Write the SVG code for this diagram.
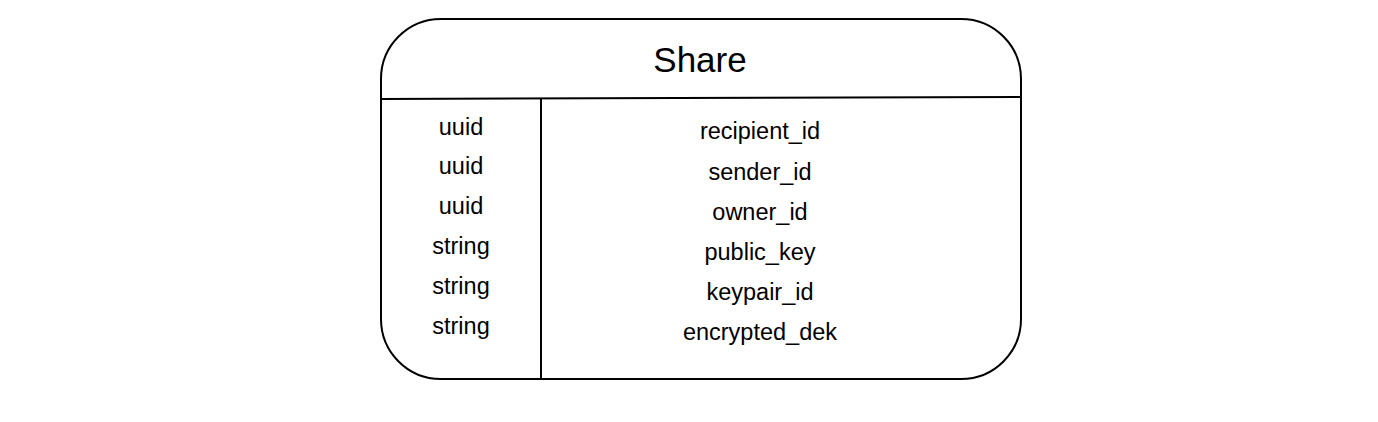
<svg xmlns="http://www.w3.org/2000/svg" width="1378" height="422" viewBox="0 0 1378 422">
<style>
.t{font-family:"Liberation Sans",Arial,sans-serif;fill:#000;text-anchor:middle}
.f{font-size:23.5px}
.ln{stroke:#000;stroke-width:2;fill:none}
</style>
<rect width="1378" height="422" fill="#fff"/>
<g id="share">
<rect x="381" y="19" width="640" height="360" rx="60" ry="60" class="ln" fill="#fff"/>
<text class="t" x="700" y="72" font-size="35">Share</text>
</g>
<g id="connectors">
<path class="ln" d="M381 99 L1022 97"/>
<path class="ln" d="M541 99 L541 379"/>
</g>
<g id="types">
<text class="t f" x="461" y="135">uuid</text>
<text class="t f" x="461" y="174">uuid</text>
<text class="t f" x="461" y="214">uuid</text>
<text class="t f" x="461" y="254">string</text>
<text class="t f" x="461" y="294">string</text>
<text class="t f" x="461" y="334">string</text>
</g>
<g id="fields">
<text class="t f" x="760" y="139">recipient_id</text>
<text class="t f" x="760" y="180">sender_id</text>
<text class="t f" x="760" y="220">owner_id</text>
<text class="t f" x="760" y="260">public_key</text>
<text class="t f" x="760" y="300">keypair_id</text>
<text class="t f" x="760" y="340">encrypted_dek</text>
</g>
</svg>
